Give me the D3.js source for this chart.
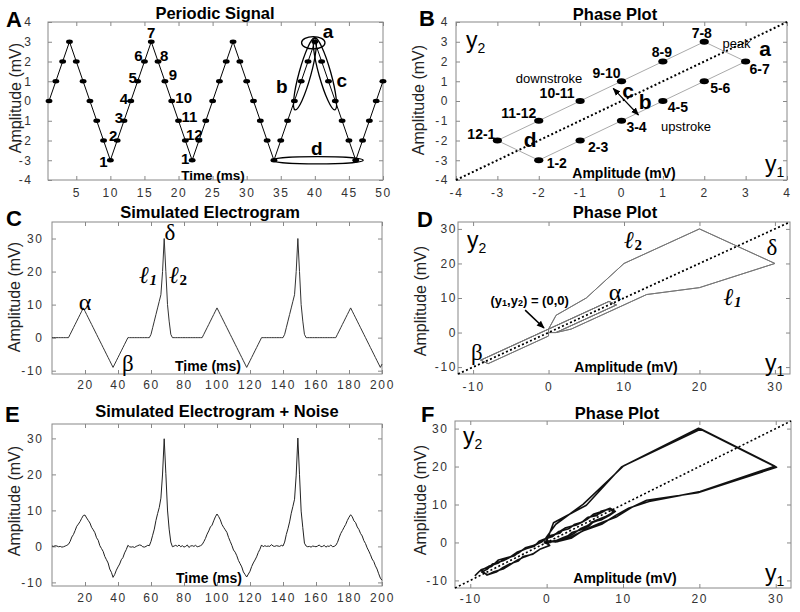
<!DOCTYPE html>
<html><head><meta charset="utf-8">
<script src="https://cdn.jsdelivr.net/npm/d3@7"></script>
<style>
body{margin:0;background:#fff}
svg{display:block}
</style>
</head><body>
<script>
// ================= DATA =================
// Panel A: periodic triangle signal, sampled every 1 ms (t = 1..50)
const aTime = [1,2,3,4,5,6,7,8,9,10,11,12,13,14,15,16,17,18,19,20,21,22,23,24,25,26,27,28,29,30,31,32,33,34,35,36,37,38,39,40,41,42,43,44,45,46,47,48,49,50];
const aAmp  = [0,1,2,3,2,1,0,-1,-2,-3,-2,-1,0,1,2,3,2,1,0,-1,-2,-3,-2,-1,0,1,2,3,2,1,0,-1,-2,-3,-2,-1,0,1,2,3,2,1,0,-1,-2,-3,-2,-1,0,1];
const aLabelText = ["1","2","3","4","5","6","7","8","9","10","11","12","1"];
const aLabelTime = [10,11,12,13,14,15,16,17,18,19,20,21,22];
const aXTicks = [5,10,15,20,25,30,35,40,45,50];
const aYTicks = [-4,-3,-2,-1,0,1,2,3,4];

// Panel B: phase plot of A (y1 = later sample, y2 = earlier sample)
const bY1 = [-2,-1,0,1,2,3,2,1,0,-1,-2,-3];
const bY2 = [-3,-2,-1,0,1,2,3,2,1,0,-1,-2];
const bLabels = ["1-2","2-3","3-4","4-5","5-6","6-7","7-8","8-9","9-10","10-11","11-12","12-1"];
const bTicks = [-4,-3,-2,-1,0,1,2,3,4];

// Panel C: simulated electrogram, 1 ms samples t = 0..200
const cAmp = [
 0,0,0,0,0,0,0,0,0,0,0,
 1,2,3,4,5,6,7,8,9,
 8,7,6,5,4,3,2,1,0,-1,-2,-3,-4,-5,-6,-7,-8,-9,
 -8,-7,-6,-5,-4,-3,-2,-1,0,
 0,0,0,0,0,0,0,0,0,0,0,0,0,
 1,3,5,7,9,11,13,20,30,20,10,5,1,0,
 0,0,0,0,0,0,0,0,0,0,0,0,0,0,0,0,0,0,
 1,2,3,4,5,6,7,8,9,
 8,7,6,5,4,3,2,1,0,-1,-2,-3,-4,-5,-6,-7,-8,-9,
 -8,-7,-6,-5,-4,-3,-2,-1,0,
 0,0,0,0,0,0,0,0,0,0,0,0,0,
 1,3,5,7,9,11,13,20,30,20,10,5,1,0,
 0,0,0,0,0,0,0,0,0,0,0,0,0,0,0,0,0,0,
 1,2,3,4,5,6,7,8,9,
 8,7,6,5,4,3,2,1,0,-1,-2,-3,-4,-5,-6,-7,-8,-9,
 -8
];
// Panel E: simulated electrogram + noise, 1 ms samples t = 0..200
const eAmp = [
 0.1,0.0,0.2,0.1,-0.1,0.0,-0.2,-0.1,0.1,0.3,0.6,
 1.4,2.6,3.3,4.4,5.6,6.2,6.9,7.8,8.6,
 8.7,7.9,7.2,6.5,5.3,4.6,3.8,2.4,1.7,0.2,-0.6,-1.4,-2.8,-3.7,-4.6,-6.3,-7.2,-8.6,
 -7.8,-6.6,-5.7,-4.9,-3.7,-3.1,-1.8,-0.9,0.3,
 -0.1,-0.2,-0.1,-0.3,0.0,0.2,0.4,0.3,-0.1,-0.2,0.0,0.3,0.2,
 1.4,3.1,4.8,7.2,9.1,10.8,13.4,20.1,29.9,20.2,10.1,4.8,1.2,-0.1,
 0.1,0.3,0.0,0.4,-0.1,0.2,-0.2,0.0,0.4,-0.3,0.1,0.2,0.0,0.3,-0.1,0.0,0.2,0.5,
 1.3,2.2,3.4,4.3,5.4,5.9,7.1,8.2,9.0,
 8.3,7.4,6.1,5.3,4.6,3.9,2.5,1.4,0.3,-1.0,-1.6,-2.6,-3.9,-4.8,-5.7,-7.1,-7.8,-8.5,
 -7.7,-6.9,-5.6,-4.6,-3.8,-2.9,-1.7,-0.8,0.4,
 -0.1,0.2,0.0,0.1,0.0,0.5,0.1,0.0,0.2,0.1,0.0,0.3,0.1,
 1.2,3.3,4.9,6.8,9.2,11.1,13.1,19.8,30.1,19.9,9.8,5.2,0.9,0.1,
 -0.1,0.0,-0.2,0.1,0.0,-0.1,0.1,0.4,-0.1,0.0,0.3,-0.2,0.1,0.0,0.4,-0.1,0.0,0.3,
 1.1,2.4,3.6,4.4,5.3,6.1,7.2,8.1,8.8,
 8.2,7.1,6.6,5.4,4.7,3.6,2.9,1.6,0.8,-0.4,-1.3,-2.3,-3.5,-4.2,-5.4,-6.3,-7.6,-8.8,
 -9.4
];
const egmXTicks = [20,40,60,80,100,120,140,160,180,200];
const egmYTicks = [-10,0,10,20,30];
const phaseTicks = [-10,0,10,20,30];
const phaseLag = 1; // samples between y2 (earlier) and y1 (later)

// ================= DRAWING =================
const FONT = "Arial, 'Liberation Sans', Helvetica, sans-serif";
const SERIF = "'Liberation Serif', 'DejaVu Serif', 'Times New Roman', serif";
const svg = d3.select("body").append("svg").attr("width",800).attr("height",612);
svg.append("rect").attr("width",800).attr("height",612).attr("fill","#fff");
const defs = svg.append("defs");
defs.append("marker").attr("id","arr").attr("viewBox","0 0 10 10")
  .attr("refX",9).attr("refY",5).attr("markerWidth",8).attr("markerHeight",8)
  .attr("markerUnits","userSpaceOnUse").attr("orient","auto-start-reverse")
  .append("path").attr("d","M0,1L10,5L0,9Z").attr("fill","#000");

function styleAxis(sel){
  sel.select(".domain").remove();
  sel.selectAll(".tick line").attr("stroke","#888");
  sel.selectAll("text").attr("fill","#333").style("font-family",FONT)
     .style("font-size","12px").style("letter-spacing","1.6px");
}
function panel(o){
  const x = d3.scaleLinear().domain(o.xd).range([o.l,o.r]);
  const y = d3.scaleLinear().domain(o.yd).range([o.b,o.t]);
  const g = svg.append("g");
  const fmt = d => String(d);
  g.append("g").attr("transform",`translate(0,${o.b})`)
    .call(d3.axisBottom(x).tickValues(o.xt).tickSizeInner(-4).tickSizeOuter(0).tickPadding(o.xp).tickFormat(fmt)).call(styleAxis);
  g.append("g").attr("transform",`translate(0,${o.t})`)
    .call(d3.axisTop(x).tickValues(o.xt).tickSizeInner(-4).tickSizeOuter(0).tickFormat("")).call(styleAxis);
  g.append("g").attr("transform",`translate(${o.l},0)`)
    .call(d3.axisLeft(y).tickValues(o.yt).tickSizeInner(-4).tickSizeOuter(0).tickPadding(o.yp).tickFormat(fmt)).call(styleAxis);
  g.append("g").attr("transform",`translate(${o.r},0)`)
    .call(d3.axisRight(y).tickValues(o.yt).tickSizeInner(-4).tickSizeOuter(0).tickFormat("")).call(styleAxis);
  g.append("rect").attr("x",o.l).attr("y",o.t).attr("width",o.r-o.l).attr("height",o.b-o.t)
    .attr("fill","none").attr("stroke","#888").attr("stroke-width",1);
  return {x,y,g};
}
function text(x,y,s,opt={}){
  const t = svg.append("text").attr("x",x).attr("y",y).text(s)
    .style("font-family",opt.family||FONT).style("font-size",(opt.size||14)+"px")
    .style("font-weight",opt.weight||"normal").style("font-style",opt.style||"normal")
    .attr("text-anchor",opt.anchor||"start").attr("fill",opt.fill||"#000");
  if(opt.baseline) t.attr("dominant-baseline",opt.baseline);
  if(opt.rotate) t.attr("transform",`rotate(${opt.rotate},${x},${y})`);
  return t;
}
function ylab(x,y){ text(x,y,"Amplitude (mV)",{size:16,anchor:"middle",rotate:-90,fill:"#222"}); }
function subLabel(x,y,main,sub){
  const t = svg.append("text").attr("x",x).attr("y",y).style("font-family",FONT).style("font-size","23px").attr("fill","#000");
  t.append("tspan").text(main);
  t.append("tspan").text(sub).style("font-size","14px").attr("dy",5);
}
function ellSpan(p,x1,y1,x2,y2,halfW){
  const X1=p.x(x1),Y1=p.y(y1),X2=p.x(x2),Y2=p.y(y2);
  const cx=(X1+X2)/2, cy=(Y1+Y2)/2;
  const len=Math.hypot(X2-X1,Y2-Y1)/2;
  const ang=Math.atan2(Y2-Y1,X2-X1)*180/Math.PI;
  p.g.append("ellipse").attr("cx",0).attr("cy",0).attr("rx",len).attr("ry",halfW)
    .attr("transform",`translate(${cx},${cy}) rotate(${ang})`)
    .attr("fill","none").attr("stroke","#000").attr("stroke-width",1.3);
}
function diag(p,lo,hi,w){
  p.g.append("line").attr("x1",p.x(lo)).attr("y1",p.y(lo)).attr("x2",p.x(hi)).attr("y2",p.y(hi))
    .attr("stroke","#000").attr("stroke-width",w).attr("stroke-dasharray","2 2.4");
}

// ---------- Panel A ----------
const A = panel({l:48,r:383,t:22,b:180,xd:[0.85,50],yd:[-4,4],xt:aXTicks,yt:aYTicks,xp:8.5,yp:15.5});
A.g.append("path").datum(aTime.map((t,i)=>[t,aAmp[i]]))
  .attr("d",d3.line().x(d=>A.x(d[0])).y(d=>A.y(d[1]))).attr("fill","none").attr("stroke","#000").attr("stroke-width",1);
A.g.selectAll(".am").data(aTime.map((t,i)=>[t,aAmp[i]])).join("ellipse")
  .attr("cx",d=>A.x(d[0])).attr("cy",d=>A.y(d[1])).attr("rx",3.4).attr("ry",2.2).attr("fill","#000");
const aOff = [[-7,1],[-4,-5],[-5,-3],[-7,-3],[-5,-4],[-6,-6],[0,-9],[6,-6],[8,-7],[12,-4],[11,-4],[9,-6],[-7,-2]];
aLabelText.forEach((s,i)=>{
  const t=aLabelTime[i], v=aAmp[aTime.indexOf(t)];
  text(A.x(t)+aOff[i][0],A.y(v)+aOff[i][1],s,{size:15,weight:"bold",anchor:"middle",baseline:"central"});
});
// annotation ellipses a,b,c,d
A.g.append("ellipse").attr("cx",A.x(39.77)).attr("cy",A.y(2.95)).attr("rx",11.7).attr("ry",6.2)
  .attr("fill","none").attr("stroke","#000").attr("stroke-width",1.3);
ellSpan(A,37.1,-0.45,40.0,3.2,6);
ellSpan(A,42.96,-0.45,40.0,3.2,6);
ellSpan(A,33.67,-3,47.1,-3,3.6);
text(A.x(41.93),A.y(3.51),"a",{size:19,weight:"bold",anchor:"middle",baseline:"central"});
text(A.x(35.14),A.y(0.72),"b",{size:19,weight:"bold",anchor:"middle",baseline:"central"});
text(A.x(43.94),A.y(1.06),"c",{size:19,weight:"bold",anchor:"middle",baseline:"central"});
text(A.x(40.27),A.y(-2.38),"d",{size:19,weight:"bold",anchor:"middle",baseline:"central"});
text(215,19,"Periodic Signal",{size:16.5,weight:"bold",anchor:"middle"});
text(6,27,"A",{size:22,weight:"bold"});
text(213,180,"Time (ms)",{size:13.5,weight:"bold",anchor:"middle"});
ylab(21,98);

// ---------- Panel B ----------
const B = panel({l:456,r:787,t:22,b:180,xd:[-4,4],yd:[-4,4],xt:bTicks,yt:bTicks,xp:8.5,yp:7});
const bPts = bY1.map((v,i)=>[v,bY2[i]]);
B.g.append("path").datum(bPts)
  .attr("d",d3.line().x(d=>B.x(d[0])).y(d=>B.y(d[1])).curve(d3.curveLinearClosed))
  .attr("fill","none").attr("stroke","#aaa").attr("stroke-width",1);
diag(B,-4,4,2);
B.g.selectAll(".bm").data(bPts).join("ellipse")
  .attr("cx",d=>B.x(d[0])).attr("cy",d=>B.y(d[1])).attr("rx",4.6).attr("ry",3).attr("fill","#000");
const bOff = [[18,3],[18,6],[15,6],[15,6],[16,7],[14,7],[-2.5,-8.5],[-1,-10],[-15,-8],[-23,-8],[-20,-8],[-16,-7]];
bLabels.forEach((s,i)=>{
  text(B.x(bY1[i])+bOff[i][0],B.y(bY2[i])+bOff[i][1],s,{size:14,weight:"bold",anchor:"middle",baseline:"central"});
});
text(B.x(2.78),B.y(2.92),"peak",{size:13,anchor:"middle",baseline:"central"});
text(B.x(3.47),B.y(2.67),"a",{size:21,weight:"bold",anchor:"middle",baseline:"central"});
text(B.x(-1.75),B.y(1.15),"downstroke",{size:13,anchor:"middle",baseline:"central"});
text(B.x(1.56),B.y(-1.27),"upstroke",{size:13,anchor:"middle",baseline:"central"});
text(B.x(0.16),B.y(0.52),"c",{size:21,weight:"bold",anchor:"middle",baseline:"central"});
text(B.x(0.57),B.y(-0.04),"b",{size:21,weight:"bold",anchor:"middle",baseline:"central"});
text(B.x(-2.21),B.y(-1.97),"d",{size:21,weight:"bold",anchor:"middle",baseline:"central"});
B.g.append("line").attr("x1",B.x(0.41)).attr("y1",B.y(-0.71)).attr("x2",B.x(-0.2)).attr("y2",B.y(0.64))
  .attr("stroke","#000").attr("stroke-width",1.2).attr("marker-start","url(#arr)").attr("marker-end","url(#arr)");
text(615,20,"Phase Plot",{size:16.5,weight:"bold",anchor:"middle"});
text(419,26,"B",{size:22,weight:"bold"});
text(624,178,"Amplitude (mV)",{size:14,weight:"bold",anchor:"middle"});
ylab(424,100);
subLabel(466,48,"y","2");
subLabel(765,172,"y","1");

// ---------- Panel C ----------
const C = panel({l:52,r:382,t:222,b:374,xd:[0,200],yd:[-11,35],xt:egmXTicks,yt:egmYTicks,xp:6.5,yp:8.5});
C.g.append("path").datum(cAmp.map((v,i)=>[i,v]))
  .attr("d",d3.line().x(d=>C.x(d[0])).y(d=>C.y(d[1]))).attr("fill","none").attr("stroke","#333").attr("stroke-width",1);
text(C.x(71.5),C.y(31.7),"δ",{size:23,family:SERIF,anchor:"middle",baseline:"central"});
text(C.x(20),C.y(10.8),"α",{size:24,family:SERIF,anchor:"middle",baseline:"central"});
text(C.x(46),C.y(-7.7),"β",{size:23,family:SERIF,anchor:"middle",baseline:"central"});
function ell(x,y,sub){
  const t = svg.append("text").attr("x",x).attr("y",y).style("font-family",SERIF).style("font-weight","bold").attr("text-anchor","middle").attr("dominant-baseline","central");
  t.append("tspan").text("ℓ").style("font-size","24px").style("font-style","italic");
  t.append("tspan").text(sub).style("font-size","15px").style("font-style",sub==="1"?"italic":"normal").attr("dy",5);
}
ell(C.x(58.2),C.y(19),"1");
ell(C.x(76.4),C.y(19),"2");
text(210,218,"Simulated Electrogram",{size:16.5,weight:"bold",anchor:"middle"});
text(6,226,"C",{size:22,weight:"bold"});
text(208,371,"Time (ms)",{size:14,weight:"bold",anchor:"middle"});
ylab(20,297);

// ---------- Panel D ----------
const D = panel({l:458,r:790,t:222,b:374,xd:[-12,32],yd:[-12,32],xt:phaseTicks,yt:phaseTicks,xp:8,yp:1});
const dPts = cAmp.slice(0,cAmp.length-phaseLag).map((v,i)=>[cAmp[i+phaseLag],v]);
D.g.append("path").datum(dPts)
  .attr("d",d3.line().x(d=>D.x(d[0])).y(d=>D.y(d[1]))).attr("fill","none").attr("stroke","#777").attr("stroke-width",1);
diag(D,-12,32,1.8);
ell(D.x(11.2),D.y(26.8),"2");
ell(D.x(24.4),D.y(10.3),"1");
text(D.x(29.6),D.y(24.5),"δ",{size:23,family:SERIF,anchor:"middle",baseline:"central"});
text(D.x(8.8),D.y(11.7),"α",{size:24,family:SERIF,anchor:"middle",baseline:"central"});
text(D.x(-9.5),D.y(-5.9),"β",{size:23,family:SERIF,anchor:"middle",baseline:"central"});
const dl = svg.append("text").attr("x",D.x(-2.5)).attr("y",D.y(9.4)).attr("text-anchor","middle").attr("dominant-baseline","central")
  .style("font-family",FONT).style("font-weight","bold").style("font-size","13px");
dl.append("tspan").text("(y");
dl.append("tspan").text("1").style("font-size","9px").attr("dy",3);
dl.append("tspan").text(",y").attr("dy",-3);
dl.append("tspan").text("2").style("font-size","9px").attr("dy",3);
dl.append("tspan").text(") = (0,0)").attr("dy",-3);
D.g.append("line").attr("x1",D.x(-3.1)).attr("y1",D.y(6.5)).attr("x2",D.x(-0.6)).attr("y2",D.y(1.3))
  .attr("stroke","#000").attr("stroke-width",1.5).attr("marker-end","url(#arr)");
text(615,218,"Phase Plot",{size:16.5,weight:"bold",anchor:"middle"});
text(417,227,"D",{size:22,weight:"bold"});
text(626,372,"Amplitude (mV)",{size:14,weight:"bold",anchor:"middle"});
ylab(426,301);
subLabel(467,248,"y","2");
subLabel(765,371,"y","1");

// ---------- Panel E ----------
const E = panel({l:52,r:382,t:424,b:586,xd:[0,200],yd:[-11,34],xt:egmXTicks,yt:egmYTicks,xp:7.5,yp:8.5});
E.g.append("path").datum(eAmp.map((v,i)=>[i,v]))
  .attr("d",d3.line().x(d=>E.x(d[0])).y(d=>E.y(d[1]))).attr("fill","none").attr("stroke","#222").attr("stroke-width",1);
text(217,417,"Simulated Electrogram + Noise",{size:16.5,weight:"bold",anchor:"middle"});
text(5,422,"E",{size:22,weight:"bold"});
text(209,583,"Time (ms)",{size:14,weight:"bold",anchor:"middle"});
ylab(20,501);

// ---------- Panel F ----------
const F = panel({l:455,r:791,t:421,b:588,xd:[-12,32],yd:[-12,32],xt:phaseTicks,yt:phaseTicks,xp:6,yp:6.5});
const fPts = eAmp.slice(0,eAmp.length-phaseLag).map((v,i)=>[eAmp[i+phaseLag],v]);
F.g.append("path").datum(fPts)
  .attr("d",d3.line().x(d=>F.x(d[0])).y(d=>F.y(d[1]))).attr("fill","none").attr("stroke","#111").attr("stroke-width",1.6).attr("stroke-linejoin","round");
diag(F,-12,32,1.6);
text(617,419,"Phase Plot",{size:16.5,weight:"bold",anchor:"middle"});
text(421,422,"F",{size:22,weight:"bold"});
text(625,583,"Amplitude (mV)",{size:14,weight:"bold",anchor:"middle"});
ylab(426,500);
subLabel(463,444,"y","2");
subLabel(765,581,"y","1");
</script>
</body></html>
